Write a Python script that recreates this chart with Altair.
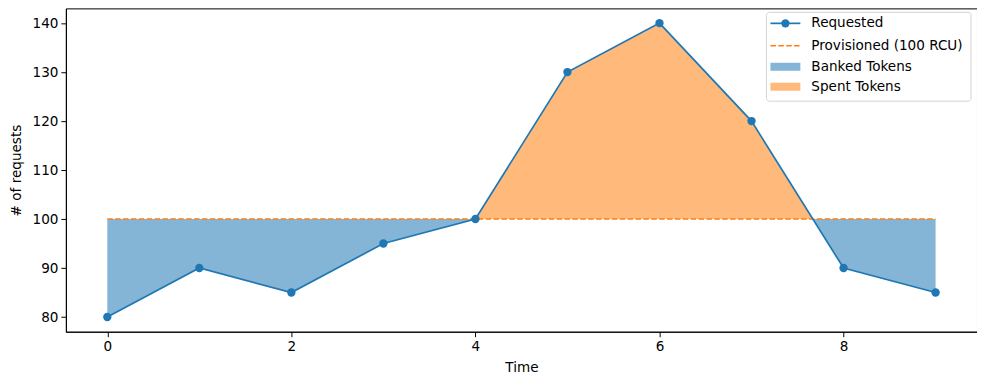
import altair as alt
import pandas as pd

# ---- data ----
time = [0, 1, 2, 3, 4, 5, 6, 7, 8, 9]
requested = [80, 90, 85, 95, 100, 130, 140, 120, 90, 85]
provisioned = 100
x_ticks = [0, 2, 4, 6, 8]
y_ticks = [80, 90, 100, 110, 120, 130, 140]

BLUE = "#1f77b4"
ORANGE = "#ff7f0e"
FONT = "DejaVu Sans"
FS = 13.6

# series table
df = pd.DataFrame({"t": time, "r": requested})
df["p"] = provisioned

# fill table with interpolated crossings (like fill_between interpolate=True)
rows = []
for i in range(len(time)):
    rows.append((time[i], requested[i]))
    if i < len(time) - 1:
        a, b = requested[i] - provisioned, requested[i + 1] - provisioned
        if a * b < 0:
            f = a / (a - b)
            tx = time[i] + f * (time[i + 1] - time[i])
            rows.append((tx, provisioned))
fill = pd.DataFrame(rows, columns=["t", "r"])
fill["lo"] = fill["r"].clip(upper=provisioned)
fill["hi"] = fill["r"].clip(lower=provisioned)
fill["p"] = provisioned

W, H = 913, 324

xs = alt.Scale(domain=[-0.45, 9.45], nice=False, zero=False)
ys = alt.Scale(domain=[77, 143], nice=False, zero=False)

xax = alt.Axis(values=x_ticks, title="Time", grid=False, tickSize=5, labelPadding=3,
               titlePadding=7, format="d")
yax = alt.Axis(values=y_ticks, title="# of requests", grid=False, tickSize=5, labelPadding=3,
               titlePadding=9, format="d")

X = alt.X("t:Q", scale=xs, axis=xax)
Y = alt.Y("r:Q", scale=ys, axis=yax)

banked = alt.Chart(fill).mark_area(color=BLUE, opacity=0.55, interpolate="linear").encode(
    x=X, y=alt.Y("lo:Q", scale=ys, axis=yax), y2="p:Q")
spent = alt.Chart(fill).mark_area(color=ORANGE, opacity=0.55, interpolate="linear").encode(
    x=X, y=alt.Y("hi:Q", scale=ys, axis=yax), y2="p:Q")
prov = alt.Chart(df).mark_line(color=ORANGE, strokeWidth=1.6, strokeDash=[5.5, 2.4]).encode(
    x=X, y=alt.Y("p:Q", scale=ys, axis=yax))
req_line = alt.Chart(df).mark_line(color=BLUE, strokeWidth=1.7).encode(x=X, y=Y)
req_pts = alt.Chart(df).mark_circle(color=BLUE, opacity=1, size=70).encode(x=X, y=Y)

# ---- manual legend ----
one = alt.Data(values=[{"a": 1}])
LX0, LX1 = 702, 907
box = alt.Chart(one).mark_rect(fill="white", stroke="#cccccc", strokeWidth=1, cornerRadius=3,
                               opacity=0.85).encode(
    x=alt.value(LX0), x2=alt.value(LX1), y=alt.value(4), y2=alt.value(93))
rows_y = [15, 37.5, 58.5, 78.5]
labels = ["Requested", "Provisioned (100 RCU)", "Banked Tokens", "Spent Tokens"]
hx0, hx1, tx = 706, 736, 747
leg = [box]
leg.append(alt.Chart(one).mark_rule(color=BLUE, strokeWidth=1.7).encode(
    x=alt.value(hx0), x2=alt.value(hx1), y=alt.value(rows_y[0])))
leg.append(alt.Chart(one).mark_circle(color=BLUE, opacity=1, size=70).encode(
    x=alt.value((hx0 + hx1) / 2), y=alt.value(rows_y[0])))
leg.append(alt.Chart(one).mark_rule(color=ORANGE, strokeWidth=1.6, strokeDash=[5.5, 2.4]).encode(
    x=alt.value(hx0), x2=alt.value(hx1), y=alt.value(rows_y[1])))
leg.append(alt.Chart(one).mark_rect(color=BLUE, opacity=0.55).encode(
    x=alt.value(hx0), x2=alt.value(hx1), y=alt.value(rows_y[2] - 4), y2=alt.value(rows_y[2] + 4)))
leg.append(alt.Chart(one).mark_rect(color=ORANGE, opacity=0.55).encode(
    x=alt.value(hx0), x2=alt.value(hx1), y=alt.value(rows_y[3] - 4), y2=alt.value(rows_y[3] + 4)))
for yy, lab in zip(rows_y, labels):
    leg.append(alt.Chart(one).mark_text(text=lab, align="left", baseline="middle", font=FONT,
                                         fontSize=FS, color="black").encode(
        x=alt.value(tx), y=alt.value(yy)))

chart = alt.layer(banked, spent, prov, req_line, req_pts, *leg).properties(
    width=W, height=H, padding={"left": 58, "top": 0, "right": 0, "bottom": 46},
    autosize=alt.AutoSizeParams(type="none"),
).configure_view(stroke="black", strokeWidth=1).configure_axis(
    labelFont=FONT, titleFont=FONT, labelFontSize=FS, titleFontSize=FS,
    titleFontWeight="normal", labelColor="black", titleColor="black",
    domainColor="black", tickColor="black", domainWidth=1, tickWidth=1,
)

chart.save("out.html", embed_options={"renderer": "svg", "actions": False})
